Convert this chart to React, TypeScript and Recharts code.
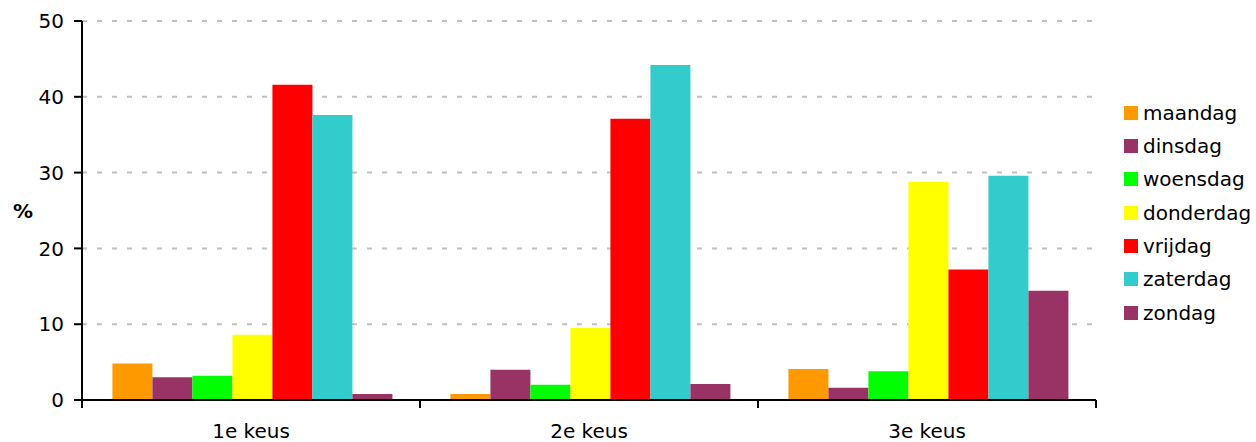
import { BarChart, Bar, XAxis, YAxis, CartesianGrid, Legend } from 'recharts';

const categories = ['1e keus', '2e keus', '3e keus'];

const maandag = [4.8, 0.8, 4.1];
const dinsdag = [3.0, 4.0, 1.6];
const woensdag = [3.2, 2.0, 3.8];
const donderdag = [8.6, 9.5, 28.8];
const vrijdag = [41.6, 37.1, 17.2];
const zaterdag = [37.6, 44.2, 29.6];
const zondag = [0.8, 2.1, 14.4];

const yTicks = [0, 10, 20, 30, 40, 50];

const series = [
  { key: 'maandag', values: maandag, color: '#ff9900' },
  { key: 'dinsdag', values: dinsdag, color: '#993366' },
  { key: 'woensdag', values: woensdag, color: '#00ff00' },
  { key: 'donderdag', values: donderdag, color: '#ffff00' },
  { key: 'vrijdag', values: vrijdag, color: '#ff0000' },
  { key: 'zaterdag', values: zaterdag, color: '#33cccc' },
  { key: 'zondag', values: zondag, color: '#993366' },
];

const data = categories.map((name, i) => {
  const row: Record<string, any> = { name };
  series.forEach((s) => {
    row[s.key] = s.values[i];
  });
  return row;
});

const FONT = '"DejaVu Sans", Verdana, sans-serif';
const TICK_SIZE = 8;
const TICK_MARGIN = 16;

// category ticks sit on the band edges, labels in the middle
function CategoryTick(props: any) {
  const { x, y, payload, index, visibleTicksCount, width } = props;
  const half =
    payload && payload.offset ? payload.offset : (width || 0) / (visibleTicksCount || 1) / 2;
  const axisY = y - TICK_SIZE - TICK_MARGIN;
  const last = index === categories.length - 1;
  return (
    <g>
      <line x1={x - half} x2={x - half} y1={axisY} y2={axisY + TICK_SIZE} stroke="#000" strokeWidth={2} />
      {last && (
        <line x1={x + half} x2={x + half} y1={axisY} y2={axisY + TICK_SIZE} stroke="#000" strokeWidth={2} />
      )}
      <text x={x} y={y} dy="0.71em" textAnchor="middle" fill="#000" fontSize={20} fontFamily={FONT}>
        {payload.value}
      </text>
    </g>
  );
}

function DayLegend() {
  return (
    <div style={{ fontFamily: FONT, fontSize: 20, color: '#000' }}>
      {series.map((s) => (
        <div key={s.key} style={{ height: 33.33, display: 'flex', alignItems: 'center' }}>
          <span style={{ width: 14, height: 14, background: s.color, marginRight: 5, flex: 'none' }} />
          <span style={{ whiteSpace: 'nowrap' }}>{s.key}</span>
        </div>
      ))}
    </div>
  );
}

export default function App() {
  return (
    <div style={{ position: 'absolute', left: 0, top: 0, background: '#fff' }}>
      <BarChart
        width={1256}
        height={442}
        data={data}
        margin={{ top: 21, right: 28, bottom: 0, left: 0 }}
        barCategoryGap="9%"
        barGap={0}
      >
        <CartesianGrid vertical={false} stroke="#c0c0c0" strokeWidth={2} strokeDasharray="5 10" />
        <XAxis
          dataKey="name"
          height={42}
          tickSize={TICK_SIZE}
          tickMargin={TICK_MARGIN}
          tickLine={false}
          axisLine={{ stroke: '#000', strokeWidth: 2 }}
          tick={<CategoryTick />}
          interval={0}
        />
        <YAxis
          width={82}
          domain={[0, 50]}
          ticks={yTicks}
          tickSize={TICK_SIZE}
          tickMargin={10}
          axisLine={{ stroke: '#000', strokeWidth: 2 }}
          tickLine={{ stroke: '#000', strokeWidth: 2 }}
          tick={{ fill: '#000', fontSize: 20, fontFamily: FONT }}
          label={{
            value: '%',
            position: 'insideLeft',
            offset: 13,
            style: { fontWeight: 'bold', fontSize: 20, fill: '#000', fontFamily: FONT },
          }}
        />
        <Legend
          layout="vertical"
          verticalAlign="top"
          align="right"
          content={<DayLegend />}
          wrapperStyle={{ position: 'absolute', left: 1124, top: 96, width: 132 }}
        />
        {series.map((s) => (
          <Bar key={s.key} dataKey={s.key} fill={s.color} isAnimationActive={false} />
        ))}
      </BarChart>
    </div>
  );
}
